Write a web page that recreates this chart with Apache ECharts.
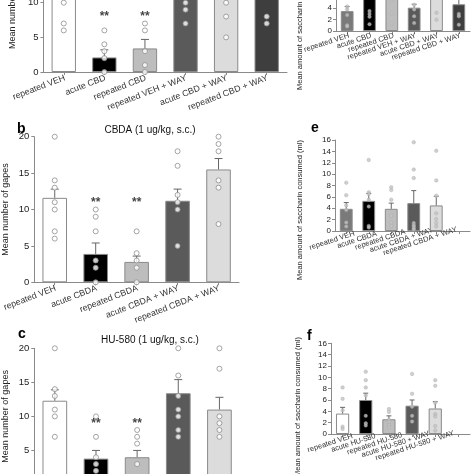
<!DOCTYPE html>
<html><head><meta charset="utf-8">
<script src="https://cdn.jsdelivr.net/npm/echarts@6/dist/echarts.min.js"></script>
<style>html,body{margin:0;padding:0;background:#fff;overflow:hidden;width:474px;height:474px;position:relative}#c{position:absolute;left:0;top:-80px;width:474px;height:610px}</style>
</head><body><div id="c"></div>
<script>
// ---- categories ----
const catsA = ['repeated VEH','acute CBD','repeated CBD','repeated VEH + WAY','acute CBD + WAY','repeated CBD + WAY'];
const catsB = ['repeated VEH','acute CBDA','repeated CBDA','acute CBDA + WAY','repeated CBDA + WAY'];
const catsC = ['repeated VEH','acute HU-580','repeated HU-580','acute HU-580 + WAY','repeated HU-580 + WAY'];
// ---- gapes (left panels) ----
const meansA = [12.3, 2.1, 3.4, 12.0, 11.5, 12.0];
const errA   = [1.5, 1.1, 1.3, 1.5, 1.5, 1.5];
const ptsA = [[20,14,13,10,7,6],[6,4,3,2,0],[7,6,3,1,0],[18,15,13,10,9,7],[17,14,12,10,8,5],[19,16,14,12,8,7]];
const starsA = [null, 8.4, 8.4, null, null, null];
const meansB = [11.6, 3.9, 2.8, 11.2, 15.5];
const errB   = [1.2, 1.5, 0.8, 1.6, 1.5];
const ptsB = [[20,14,13,11,10,7,6],[10,9,7,3,2,0],[7,4,3,2,0],[18,16,12,11,10,5],[20,19,18,14,13,8]];
const starsB = [null, 11.4, 11.4, null, null];
const meansC = [12.3, 3.8, 4.0, 13.4, 11.0];
const errC   = [1.6, 1.2, 1.0, 2.0, 1.8];
const ptsC = [[20,14,13,11,10,7],[10,7,4,3,2,1,0],[8,7,6,3,0,0],[20,16,13,11,10,8,7],[20,17,10,9,8,7]];
const starsC = [null, 9.35, 9.35, null, null];
// ---- saccharin (right panels) ----
const meansD = [3.5, 6.5, 6.0, 4.1, 6.8, 4.7];
const errD   = [0.8, 1.0, 1.2, 0.6, 1.5, 1.2];
const ptsD = [[4.3,3.8,2.8,1.0,0.8],[9.0,7.5,3.5,3.0,2.5,1.2],[8.5,5.5,3.1,1.3],[4.6,3.8,2.6,1.4],[9.0,3.2,2.0],[3.0,2.6,1.1]];
const meansE = [3.9, 5.3, 3.9, 4.9, 4.5];
const errE   = [1.1, 1.3, 1.0, 2.2, 1.6];
const ptsE = [[8.5,6.3,4.5,3.7,1.5,0.8],[12.5,6.8,6.5,5.5,4.3,0.9,0.6],[7.7,7.2,5.5,2.7,1.5,0.9],[15.6,10.8,9.3,1.4,1.0,0.8,0.5,0.3],[14.1,8.9,6.2,3.1,2.1,1.4,0.8]];
const meansF = [3.6, 6.0, 2.6, 5.0, 4.5];
const errF   = [1.1, 1.2, 0.6, 1.0, 1.2];
const ptsF = [[8.2,6.2,4.2,1.3,0.9],[11.0,9.5,8.2,6.8,3.2,1.9,1.5],[4.4,3.9,2.5,2.1,1.6,1.2],[10.6,7.1,4.8,3.2,2.2],[9.5,8.5,5.5,3.5,3.1,1.4,0.6]];
// ---- ticks ----
const gapeMax = 20, gapeStep = 5;
const sacMax = 16, sacStep = 2;

// ---- layout / style (not data) ----
const OY = 80; // canvas is shifted up by this many px so that cropped panels can be drawn
const W='#ffffff', K='#000000', L='#bdbdbd', D='#5a5a5a', LL='#dcdcdc', DD='#3e3e3e', M='#7a7a7a';
const FONT = 'Liberation Sans, Arial, sans-serif';
// label end offsets (screen px: [dx, dy]) for the right-hand panels
const shiftD = [[2,0],[2,0],[2,0],[2,0],[2,0],[2,0]];
const shiftE = [[9,0],[9,1],[16,2],[22,3],[24,4]];
const shiftF = [[11,0],[11,1],[15,2],[20,3],[22,4]];
const RROT = 18;

function labelPad(sh){
  const t = RROT*Math.PI/180, X = sh[0], Y = sh[1];
  const s = X*Math.cos(t) - Y*Math.sin(t);
  const d = X*Math.sin(t) + Y*Math.cos(t);
  return [2*d, -s, 0, 0];
}

const panels = [
  {cats:catsA, means:meansA, err:errA, pts:ptsA, stars:starsA, colors:[W,K,L,D,LL,DD], g:{left:32, top:-66.6, width:255, height:138.6}, max:gapeMax, step:gapeStep, left:true, shift:null},
  {cats:catsB, means:meansB, err:errB, pts:ptsB, stars:starsB, colors:[W,K,L,D,LL], g:{left:31, top:136.7, width:208, height:145.6}, max:gapeMax, step:gapeStep, left:true, shift:null},
  {cats:catsC, means:meansC, err:errC, pts:ptsC, stars:starsC, colors:[W,K,L,D,LL], g:{left:32, top:348.3, width:208, height:145}, max:gapeMax, step:gapeStep, left:true, shift:null},
  {cats:catsA, means:meansD, err:errD, pts:ptsD, stars:null, colors:[M,K,L,D,LL,DD], g:{left:336, top:-60, width:134, height:91}, max:sacMax, step:sacStep, left:false, shift:shiftD},
  {cats:catsB.concat(['']), means:meansE, err:errE, pts:ptsE, stars:null, colors:[M,K,L,D,LL], g:{left:335, top:140, width:135, height:91}, max:sacMax, step:sacStep, left:false, shift:shiftE},
  {cats:catsC.concat(['']), means:meansF, err:errF, pts:ptsF, stars:null, colors:[W,K,L,D,LL], g:{left:331, top:343.3, width:139, height:90.7}, max:sacMax, step:sacStep, left:false, shift:shiftF}
];

const grid=[], xAxis=[], yAxis=[], series=[];
panels.forEach((p,i)=>{
  grid.push({containLabel:false, left:p.g.left, top:p.g.top+OY, width:p.g.width, height:p.g.height});
  const xdata = p.cats.map((c,k)=> p.shift && p.shift[k] ? {value:c, textStyle:{padding:labelPad(p.shift[k])}} : c);
  xAxis.push({type:'category', gridIndex:i, data:xdata, boundaryGap:true,
    axisLine:{lineStyle:{color:'#8a8a8a', width:1}},
    axisTick:{show:true, alignWithLabel:true, length:3, lineStyle:{color:'#8a8a8a'}},
    axisLabel:{interval:0, rotate:p.left?21:RROT, fontSize:p.left?8.8:7.5, color:'#333', fontFamily:FONT,
      margin:p.left?6:5, padding:p.left?[0,-1,0,0]:[0,0,0,0]}});
  yAxis.push({type:'value', gridIndex:i, min:0, max:p.max, interval:p.step,
    axisLine:{show:true, lineStyle:{color:'#8a8a8a', width:1}},
    axisTick:{show:true, length:3, lineStyle:{color:'#8a8a8a'}},
    splitLine:{show:false},
    axisLabel:{fontSize:p.left?9.5:8, color:'#222', fontFamily:FONT, margin:p.left?5:4},
    name: p.left ? 'Mean number of gapes' : '', nameLocation:'middle', nameGap:24,
    nameTextStyle:{fontSize:9, color:'#222', fontFamily:FONT}});
  series.push({type:'bar', xAxisIndex:i, yAxisIndex:i, barWidth:p.left?'60%':'57%',
    data:p.means.map((v,k)=>({value:v, itemStyle:{color:p.colors[k], borderColor:'#8a8a8a', borderWidth:1}})), z:2});
  const cap = p.left?4:2.5;
  series.push({type:'custom', xAxisIndex:i, yAxisIndex:i, z:3,
    data:p.means.map((v,k)=>[k, v, v+p.err[k]]),
    renderItem:(params, api)=>{
      const a = api.coord([api.value(0), api.value(1)]);
      const b = api.coord([api.value(0), api.value(2)]);
      return {type:'group', children:[
        {type:'line', shape:{x1:a[0],y1:a[1],x2:b[0],y2:b[1]}, style:{stroke:'#666', lineWidth:1}},
        {type:'line', shape:{x1:b[0]-cap,y1:b[1],x2:b[0]+cap,y2:b[1]}, style:{stroke:'#666', lineWidth:1}}
      ]};
    }});
  const pd=[]; p.pts.forEach((arr,k)=>arr.forEach(v=>pd.push([k,v])));
  series.push({type:'scatter', xAxisIndex:i, yAxisIndex:i, z:4, data:pd,
    symbol:'circle', symbolSize:p.left?5:3.5,
    itemStyle:p.left?{color:'#ffffff', borderColor:'#8f8f8f', borderWidth:1}:{color:'#c4c4c4', borderColor:'#a8a8a8', borderWidth:0.5}});
  if (p.stars) {
    const sd=[]; p.stars.forEach((v,k)=>{ if(v!==null) sd.push([k,v]); });
    series.push({type:'scatter', xAxisIndex:i, yAxisIndex:i, z:5, data:sd, symbolSize:1, itemStyle:{color:'rgba(0,0,0,0)'},
      label:{show:true, position:'inside', offset:[0,3], formatter:'**', fontSize:12, fontWeight:'bold', color:'#111', fontFamily:FONT}});
  }
});

const chart = echarts.init(document.getElementById('c'), null, {renderer:'canvas'});
chart.setOption({
  animation:false,
  backgroundColor:'#ffffff',
  title:[
    {text:'b', left:12, top:117+OY, textStyle:{fontSize:14, fontWeight:'bold', color:'#000', fontFamily:FONT}},
    {text:'CBDA (1 ug/kg, s.c.)', left:145, top:120+OY, textAlign:'center', textStyle:{fontSize:10, fontWeight:'normal', color:'#111', fontFamily:FONT}},
    {text:'c', left:13, top:322+OY, textStyle:{fontSize:14, fontWeight:'bold', color:'#000', fontFamily:FONT}},
    {text:'HU-580 (1 ug/kg, s.c.)', left:145, top:330+OY, textAlign:'center', textStyle:{fontSize:10, fontWeight:'normal', color:'#111', fontFamily:FONT}},
    {text:'e', left:306, top:116+OY, textStyle:{fontSize:14, fontWeight:'bold', color:'#000', fontFamily:FONT}},
    {text:'f', left:302, top:324+OY, textStyle:{fontSize:14, fontWeight:'bold', color:'#000', fontFamily:FONT}}
  ],
  graphic:[
    {type:'text', x:300, y:20+OY, rotation:Math.PI/2, style:{text:'Mean amount of saccharin consumed (ml)', font:'7.5px '+FONT, fill:'#222', textAlign:'center', textVerticalAlign:'middle'}},
    {type:'text', x:300, y:210+OY, rotation:Math.PI/2, style:{text:'Mean amount of saccharin consumed (ml)', font:'7.5px '+FONT, fill:'#222', textAlign:'center', textVerticalAlign:'middle'}},
    {type:'text', x:298, y:407+OY, rotation:Math.PI/2, style:{text:'Mean amount of saccharin consumed (ml)', font:'7.5px '+FONT, fill:'#222', textAlign:'center', textVerticalAlign:'middle'}}
  ],
  grid, xAxis, yAxis, series
});
</script></body></html>
